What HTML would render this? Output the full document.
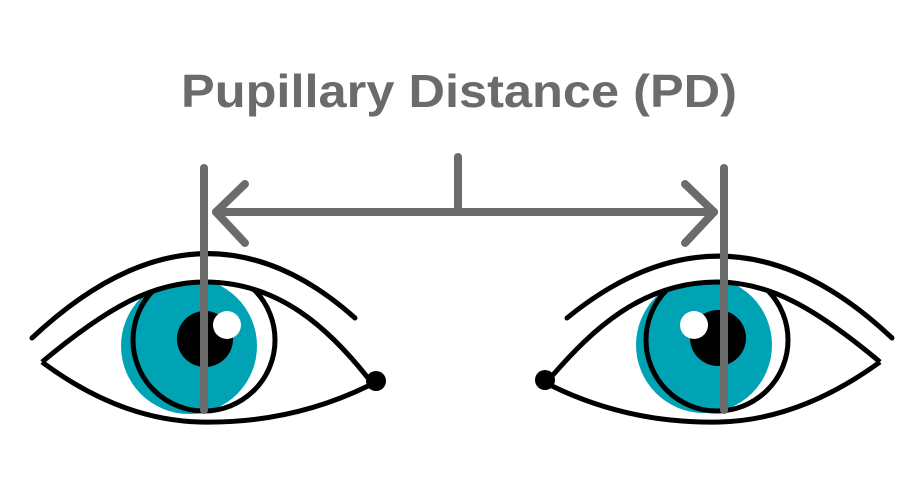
<!DOCTYPE html>
<html><head><meta charset="utf-8"><style>html,body{margin:0;padding:0;background:#fff}svg{display:block}</style></head>
<body>
<svg width="916" height="500" viewBox="0 0 916 500" xmlns="http://www.w3.org/2000/svg">
<defs>
<clipPath id="cl"><path d="M42,362 C110,305 155,282 205,282 C280,282 330,330 368,378 Q250,440 200,422 Q120,420 42,362 Z"/></clipPath>
<clipPath id="cr"><path d="M880,362 C812,305 767,282 717,282 C642,282 592,330 552,376 Q670,440 720,422 Q800,420 880,362 Z"/></clipPath>
</defs>
<text x="181" y="107" font-family="Liberation Sans, sans-serif" font-weight="bold" font-size="46" fill="#6b6b6b" textLength="556" lengthAdjust="spacingAndGlyphs">Pupillary Distance (PD)</text>

<!-- left eye -->
<g clip-path="url(#cl)">
<circle cx="189" cy="346" r="68" fill="#00a3b4"/>
<circle cx="204" cy="340" r="71" fill="none" stroke="#000" stroke-width="5"/>
</g>
<circle cx="205" cy="339" r="28" fill="#000"/>
<circle cx="227" cy="325" r="14" fill="#fff"/>
<path d="M42,362 C110,305 155,282 205,282 C280,282 330,330 368,378" fill="none" stroke="#000" stroke-width="5"/>
<path d="M42,362 Q120,420 200,422 Q290,424 368,386" fill="none" stroke="#000" stroke-width="5"/>
<circle cx="376" cy="381" r="10" fill="#000"/>
<path d="M32,338 Q200,180 355,318" fill="none" stroke="#000" stroke-width="5" stroke-linecap="round"/>

<!-- right eye -->
<g clip-path="url(#cr)">
<circle cx="704" cy="345" r="68" fill="#00a3b4"/>
<circle cx="717" cy="340" r="71" fill="none" stroke="#000" stroke-width="5"/>
</g>
<circle cx="718" cy="338" r="28" fill="#000"/>
<circle cx="694" cy="325" r="14" fill="#fff"/>
<path d="M880,362 C812,305 767,282 717,282 C642,282 592,330 552,376" fill="none" stroke="#000" stroke-width="5"/>
<path d="M880,362 Q800,420 720,422 Q630,424 552,386" fill="none" stroke="#000" stroke-width="5"/>
<circle cx="545" cy="380" r="10" fill="#000"/>
<path d="M567,318 Q730,185 892,338" fill="none" stroke="#000" stroke-width="5" stroke-linecap="round"/>

<!-- measurement -->
<g stroke="#6b6b6b" stroke-width="8" stroke-linecap="round" stroke-linejoin="round" fill="none">
<line x1="204" y1="168" x2="204" y2="410"/>
<line x1="724" y1="168" x2="724" y2="410"/>
<line x1="458" y1="157" x2="458" y2="210"/>
<line x1="216" y1="212" x2="714" y2="212"/>
<polyline points="245,184 216,212 245,243"/>
<polyline points="685,184 714,212 685,243"/>
</g>
</svg>
</body></html>
